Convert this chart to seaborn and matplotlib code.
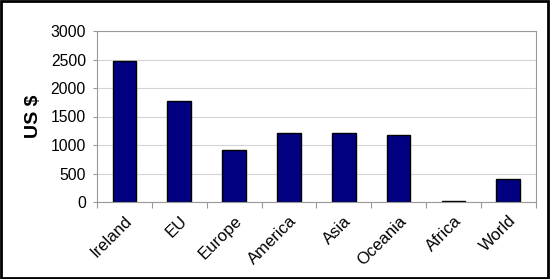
import matplotlib
matplotlib.use("Agg")
import matplotlib.pyplot as plt
import seaborn as sns
import pandas as pd
from matplotlib.patches import Rectangle

regions = ["Ireland", "EU", "Europe", "America", "Asia", "Oceania", "Africa", "World"]
values = [2480, 1780, 920, 1210, 1210, 1180, 25, 400]
yticks = [0, 500, 1000, 1500, 2000, 2500, 3000]

sns.set_theme(style="white")
plt.rcParams['font.family'] = ['Liberation Sans', 'DejaVu Sans']
plt.rcParams['text.color'] = 'black'
plt.rcParams['axes.labelcolor'] = 'black'
plt.rcParams['xtick.color'] = 'black'
plt.rcParams['ytick.color'] = 'black'

df = pd.DataFrame({"region": regions, "value": values})

fig = plt.figure(figsize=(5.5, 2.79), dpi=100)
ax = fig.add_axes([97/550, 1-202/279, (535.7-97)/550, (202-31)/279])

sns.barplot(data=df, x="region", y="value", color="#000080", saturation=1,
            width=0.43, edgecolor="black", linewidth=1, ax=ax)

ax.set_ylim(0, 3000)
ax.set_xlim(-0.5, len(regions)-0.5)
ax.set_yticks(yticks)
ax.set_yticklabels([str(v) for v in yticks], fontsize=11.3)
ax.yaxis.grid(True, color="#d4d4d4", linewidth=0.8)
ax.set_axisbelow(True)

ax.set_xticks([i - 0.5 for i in range(len(regions)+1)], minor=False)
ax.set_xticklabels([])
ax.set_xticks(range(len(regions)), minor=True)
ax.set_xticklabels(regions, minor=True, rotation=45, ha="right",
                   rotation_mode="anchor", fontsize=12)
ax.tick_params(axis="x", which="major", direction="out", length=4, color="#999999", width=0.8, bottom=True)
ax.tick_params(axis="x", which="minor", length=0, pad=8, labelcolor="black")
ax.tick_params(axis="y", direction="out", length=3, color="#999999", width=0.8, left=True, pad=5, labelcolor="black")

for s in ax.spines.values():
    s.set_color("#999999")
    s.set_linewidth(0.8)

ax.set_xlabel("")
ax.set_ylabel("US $", fontsize=14, fontweight="bold", labelpad=6, color="black")

fig.patches.append(Rectangle((0.002, 0.003), 0.995, 0.993, transform=fig.transFigure,
                             fill=False, edgecolor="black", linewidth=2))

fig.savefig("out.png", dpi=100)
